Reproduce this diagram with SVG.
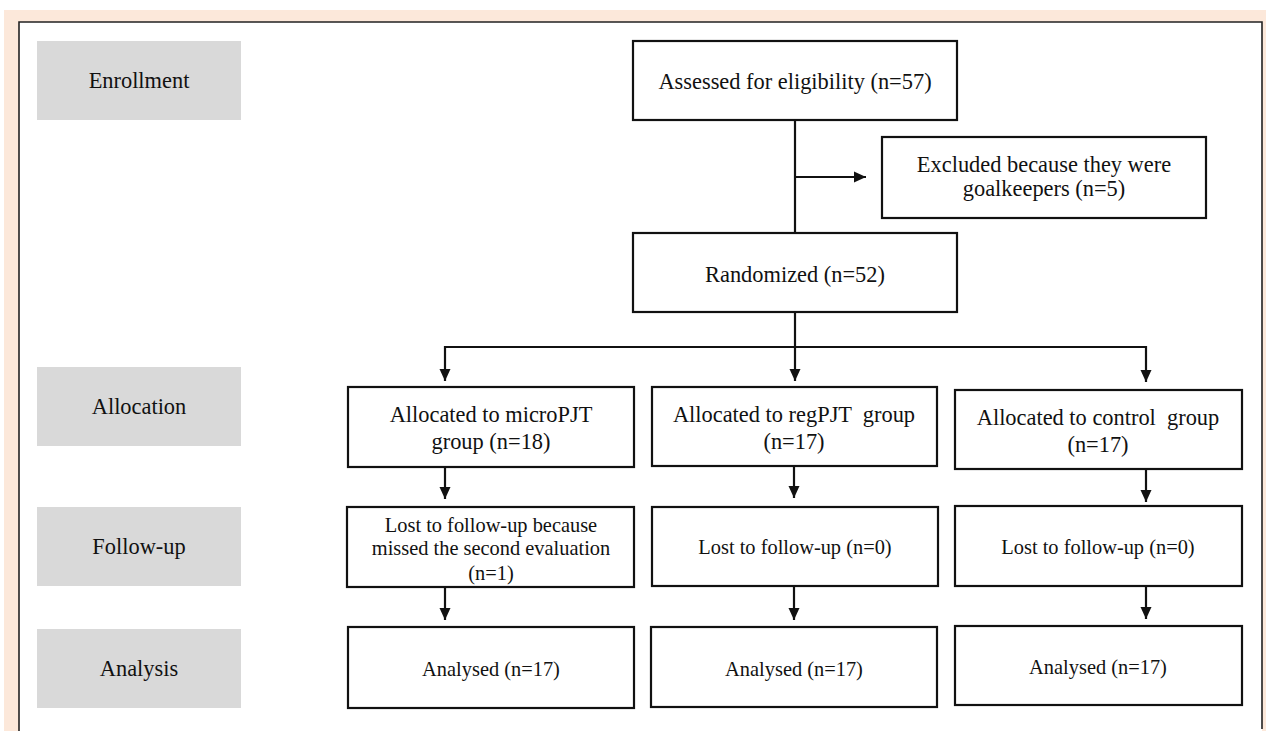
<svg xmlns="http://www.w3.org/2000/svg" width="1266" height="731" viewBox="0 0 1266 731" font-family="'Liberation Serif','Times New Roman',serif">
<defs>
<style>
.bg{fill:#fce8da}
.panel{fill:#ffffff}
.frame{fill:none;stroke:#222;stroke-width:1.6}
.stage rect{fill:#d9d9d9;stroke:none}
.box rect{fill:#ffffff;stroke:#111;stroke-width:2.2}
text{font-family:"Liberation Serif","Times New Roman",serif;fill:#111;text-anchor:middle;white-space:pre}
.t22{font-size:22.4px}
.t20{font-size:20.4px}
#connectors path{fill:none;stroke:#111;stroke-width:2.2}
</style>
<marker id="arr" markerUnits="userSpaceOnUse" viewBox="0 0 12 12" refX="12" refY="6" markerWidth="12" markerHeight="12" orient="auto">
<path d="M0,0.5 L12,6 L0,11.5 z" fill="#111"/>
</marker>
</defs>
<rect class="bg" x="0" y="0" width="1266" height="731"/>
<rect x="0" y="0" width="1266" height="10" fill="#ffffff"/>
<rect x="0" y="0" width="4" height="731" fill="#ffffff"/>
<rect class="panel" x="19" y="22" width="1243" height="709"/>
<path class="frame" d="M19,731 V22 H1262 V729"/>

<g id="stage-enrollment" class="stage"><rect x="37" y="41" width="204" height="79"/><text class="t22" x="139" y="88">Enrollment</text></g>
<g id="stage-allocation" class="stage"><rect x="37" y="367" width="204" height="79"/><text class="t22" x="139" y="414">Allocation</text></g>
<g id="stage-followup" class="stage"><rect x="37" y="507" width="204" height="79"/><text class="t22" x="139" y="554">Follow-up</text></g>
<g id="stage-analysis" class="stage"><rect x="37" y="629" width="204" height="79"/><text class="t22" x="139" y="676">Analysis</text></g>

<g id="assessed" class="box"><rect x="633" y="41" width="324" height="79"/><text class="t22" x="795" y="89">Assessed for eligibility (n=57)</text></g>
<g id="excluded" class="box"><rect x="882" y="137" width="324" height="81"/><text class="t22" x="1044" y="172">Excluded because they were</text><text class="t22" x="1044" y="196">goalkeepers (n=5)</text></g>
<g id="randomized" class="box"><rect x="633" y="233" width="324" height="79"/><text class="t22" x="795" y="282">Randomized (n=52)</text></g>

<g id="alloc-micro" class="box"><rect x="348" y="387" width="286" height="80"/><text class="t22" x="491" y="422">Allocated to microPJT</text><text class="t22" x="491" y="449">group (n=18)</text></g>
<g id="alloc-reg" class="box"><rect x="652" y="387" width="285" height="79"/><text class="t22" x="794" y="422">Allocated to regPJT  group</text><text class="t22" x="794" y="449">(n=17)</text></g>
<g id="alloc-control" class="box"><rect x="955" y="390" width="287" height="79"/><text class="t22" x="1098" y="425">Allocated to control  group</text><text class="t22" x="1098" y="452">(n=17)</text></g>

<g id="fu-micro" class="box"><rect x="347" y="507" width="287" height="80"/><text class="t20" x="491" y="532">Lost to follow-up because</text><text class="t20" x="491" y="555">missed the second evaluation</text><text class="t20" x="491" y="580">(n=1)</text></g>
<g id="fu-reg" class="box"><rect x="652" y="507" width="286" height="79"/><text class="t20" x="795" y="554">Lost to follow-up (n=0)</text></g>
<g id="fu-control" class="box"><rect x="955" y="506" width="287" height="80"/><text class="t20" x="1098" y="554">Lost to follow-up (n=0)</text></g>

<g id="an-micro" class="box"><rect x="348" y="627" width="286" height="81"/><text class="t20" x="491" y="676">Analysed (n=17)</text></g>
<g id="an-reg" class="box"><rect x="651" y="627" width="286" height="80"/><text class="t20" x="794" y="676">Analysed (n=17)</text></g>
<g id="an-control" class="box"><rect x="955" y="626" width="287" height="79"/><text class="t20" x="1098" y="674">Analysed (n=17)</text></g>

<g id="connectors">
<path d="M795,120 V233"/>
<path d="M795,177 H866" marker-end="url(#arr)"/>
<path d="M795,312 V347"/>
<path d="M445,347 H1146"/>
<path d="M445,346 V381" marker-end="url(#arr)"/>
<path d="M795,347 V381" marker-end="url(#arr)"/>
<path d="M1146,346 V382" marker-end="url(#arr)"/>
<path d="M445,467 V499" marker-end="url(#arr)"/>
<path d="M794,466 V498" marker-end="url(#arr)"/>
<path d="M1146,469 V502" marker-end="url(#arr)"/>
<path d="M445,587 V620" marker-end="url(#arr)"/>
<path d="M794,586 V620" marker-end="url(#arr)"/>
<path d="M1146,586 V619" marker-end="url(#arr)"/>
</g>
</svg>
